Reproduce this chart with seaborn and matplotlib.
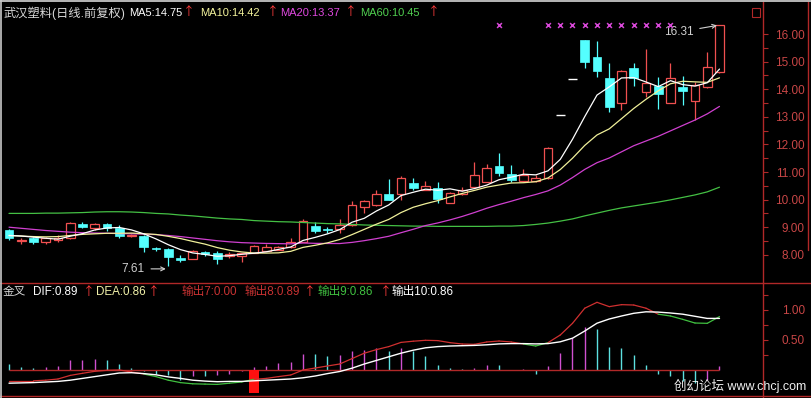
import numpy as np
import pandas as pd
import matplotlib
matplotlib.use('Agg')
import matplotlib.pyplot as plt
import seaborn as sns
from matplotlib.lines import Line2D
from matplotlib.patches import Rectangle

# ---------------- data ----------------
open_ = [8.90, 8.50, 8.62, 8.45, 8.52, 8.62, 9.12, 8.98, 9.12, 8.97,
         8.68, 8.68, 8.24, 8.22, 7.88, 7.84, 8.10, 8.05, 7.96, 7.95,
         8.08, 8.13, 8.18, 8.30, 8.48, 9.06, 8.92, 8.94, 9.08, 9.75,
         9.80, 10.21, 10.21, 10.59, 10.35, 10.41, 9.89, 10.20, 10.44, 10.65,
         11.22, 10.92, 10.68, 10.68, 10.77, 13.05, 14.36, 15.79, 15.16, 14.39,
         13.49, 14.78, 13.89, 14.12, 13.51, 14.07, 13.58, 14.09, 14.63]
high = [8.92, 8.60, 8.64, 8.64, 8.70, 9.20, 9.20, 9.14, 9.14, 9.08,
        8.74, 8.70, 8.30, 8.24, 8.00, 8.17, 8.15, 8.12, 8.10, 8.06,
        8.35, 8.38, 8.33, 8.60, 9.29, 9.18, 9.00, 9.28, 9.94, 10.00,
        10.35, 10.74, 10.84, 10.78, 10.69, 10.62, 10.29, 10.45, 11.35, 11.29,
        11.68, 11.25, 11.10, 10.89, 11.90, 13.05, 14.36, 15.79, 15.76, 14.94,
        14.70, 14.96, 15.45, 14.45, 14.96, 14.48, 14.27, 15.36, 16.31]
low = [8.54, 8.40, 8.40, 8.38, 8.48, 8.58, 8.96, 8.90, 8.88, 8.60,
       8.63, 8.10, 8.14, 7.61, 7.74, 7.83, 7.95, 7.68, 7.88, 7.73,
       8.05, 8.12, 8.16, 8.26, 8.45, 8.79, 8.80, 8.79, 9.04, 9.50,
       9.78, 9.98, 9.99, 10.35, 10.33, 9.87, 9.87, 10.18, 10.42, 10.62,
       10.86, 10.62, 10.65, 10.62, 10.74, 13.05, 14.36, 14.76, 14.45, 13.19,
       13.25, 14.12, 13.71, 13.27, 13.50, 13.43, 12.88, 14.03, 14.60]
close = [8.62, 8.54, 8.45, 8.62, 8.60, 9.16, 9.00, 9.12, 8.98, 8.69,
         8.72, 8.29, 8.20, 7.93, 7.80, 8.12, 8.02, 7.86, 8.04, 8.05,
         8.32, 8.27, 8.30, 8.48, 9.23, 8.88, 8.90, 9.08, 9.81, 9.94,
         10.21, 9.99, 10.78, 10.41, 10.50, 10.01, 10.25, 10.35, 10.89, 11.13,
         10.98, 10.71, 10.89, 10.77, 11.86, 13.05, 14.36, 15.00, 14.67, 13.34,
         14.67, 14.42, 14.21, 13.83, 14.42, 13.95, 14.15, 14.82, 16.31]

# moving-average values before a full window is available
ma5_head = [8.70, 8.68, 8.64, 8.60]
ma10_head = [8.70, 8.68, 8.66, 8.65, 8.66, 8.70, 8.74, 8.76, 8.78]
ma20_head = [9.00, 8.96, 8.92, 8.88, 8.85, 8.82, 8.80, 8.79, 8.78, 8.77,
             8.76, 8.75, 8.73, 8.70, 8.66, 8.61, 8.56, 8.51, 8.47]
ma60 = [9.50, 9.50, 9.50, 9.51, 9.51, 9.52, 9.53, 9.55, 9.56, 9.56,
        9.55, 9.53, 9.50, 9.48, 9.44, 9.41, 9.37, 9.33, 9.30, 9.28,
        9.24, 9.22, 9.20, 9.19, 9.17, 9.15, 9.13, 9.12, 9.10, 9.08,
        9.07, 9.06, 9.05, 9.04, 9.04, 9.03, 9.03, 9.03, 9.03, 9.03,
        9.04, 9.04, 9.06, 9.10, 9.15, 9.22, 9.30, 9.41, 9.51, 9.61,
        9.70, 9.77, 9.84, 9.91, 9.99, 10.08, 10.17, 10.28, 10.45]

dif = [-0.18, -0.18, -0.18, -0.17, -0.15, -0.09, -0.055, -0.022, -0.005, 0.0,
       -0.033, -0.067, -0.11, -0.17, -0.21, -0.23, -0.235, -0.24, -0.22, -0.20,
       -0.155, -0.14, -0.11, -0.083, 0.0, 0.033, 0.067, 0.10, 0.19, 0.28,
       0.34, 0.39, 0.46, 0.48, 0.495, 0.49, 0.456, 0.433, 0.428, 0.467,
       0.483, 0.467, 0.433, 0.40, 0.456, 0.583, 0.778, 1.03, 1.128, 1.056,
       1.089, 1.083, 1.03, 0.93, 0.90, 0.844, 0.783, 0.778, 0.89]
dea = [-0.22, -0.215, -0.21, -0.20, -0.19, -0.17, -0.14, -0.11, -0.08, -0.05,
       -0.045, -0.06, -0.08, -0.115, -0.14, -0.17, -0.185, -0.195, -0.19, -0.19,
       -0.18, -0.17, -0.16, -0.15, -0.13, -0.10, -0.06, -0.025, 0.03, 0.10,
       0.16, 0.22, 0.28, 0.33, 0.37, 0.39, 0.40, 0.405, 0.41, 0.42,
       0.435, 0.44, 0.44, 0.435, 0.44, 0.47, 0.53, 0.65, 0.78, 0.85,
       0.90, 0.945, 0.97, 0.965, 0.95, 0.93, 0.895, 0.86, 0.86]
macd_bar = [0.10, 0.05, 0.04, 0.05, 0.07, 0.16, 0.17, 0.18, 0.16, 0.10,
            0.04, -0.01, -0.06, -0.09, -0.16, -0.10, -0.10, -0.09, -0.06, -0.02,
            0.05, 0.07, 0.12, 0.14, 0.26, 0.26, 0.24, 0.25, 0.32, 0.33,
            0.36, 0.32, 0.36, 0.31, 0.23, 0.09, 0.04, 0.01, 0.04, 0.09,
            0.08, 0.0, 0.01, -0.06, 0.07, 0.29, 0.54, 0.72, 0.68, 0.39,
            0.37, 0.25, 0.08, -0.07, -0.10, -0.18, -0.21, -0.16, 0.06]

golden_cross_idx = [20]
golden_cross_depth = -0.38
signal_idx = [40, 44, 45, 46, 47, 48, 49, 50, 51, 52, 53, 54]
signal_level = 16.33

price_ticks = [8, 9, 10, 11, 12, 13, 14, 15, 16]
price_labels = ['8.00', '9.00', '10.00', '11.00', '12.00', '13.00', '14.00', '15.00', '16.00']
price_minor = [8.5, 9.5, 10.5, 11.5, 12.5, 13.5, 14.5, 15.5]
macd_ticks = [0.5, 1.0]
macd_labels = ['0.50', '1.00']
macd_minor = [0.25, 0.75, 1.25]

max_label = ('16.31', 58, 16.31)
min_label = ('7.61', 13, 7.61)

title_items = [('武汉塑料(日线.前复权)', 4, '#d8d8d8', 8.8), ('MA5:14.75', 129, '#ffffff', 8.0),
               ('MA10:14.42', 200, '#f4f49c', 8.0), ('MA20:13.37', 280, '#e048e0', 8.0),
               ('MA60:10.45', 360, '#50d050', 8.0)]
title_arrows = [183, 267, 345, 428]
sub_items = [('金叉', 3, '#d8d8d8'), ('DIF:0.89', 33, '#ffffff'),
             ('DEA:0.86', 96, '#f0f0a8'),
             ('输出7:0.00', 182, '#c83232'), ('输出8:0.89', 245, '#c83232'),
             ('输出9:0.86', 318, '#40c040'), ('输出10:0.86', 392, '#ffffff')]
sub_arrows = [83, 148, 304, 380]

# ---------------- style ----------------
sns.set_theme(style='dark')
plt.rcParams['font.family'] = ['Liberation Sans', 'Noto Sans CJK SC', 'DejaVu Sans']
plt.rcParams['axes.unicode_minus'] = False

RED = '#f05050'
CYAN = '#54ffff'
AXRED = '#b02828'
TXTRED = '#c84646'

W, H = 812, 398
fig = plt.figure(figsize=(W / 100, H / 100), dpi=100, facecolor='black')


def fx(px):
    return px / W


def fy(py):
    return 1 - py / H


ax1 = fig.add_axes([0, fy(283), 763 / W, 283 / H])
ax2 = fig.add_axes([0, 0, 763 / W, 115 / H])

x0 = -9 / 12.25
x1 = (763 - 9) / 12.25
for ax in (ax1, ax2):
    ax.set_facecolor('black')
    ax.grid(False)
    for s in ax.spines.values():
        s.set_visible(False)
    ax.spines['right'].set_visible(True)
    ax.spines['right'].set_color(AXRED)
    ax.spines['right'].set_linewidth(1.0)
    ax.set_xlim(x0, x1)
    ax.set_xticks([])
    ax.yaxis.tick_right()

ax1.set_ylim(16 - 249 / 27.6, 16 + 34 / 27.6)
ax2.set_ylim(-28 / 60, 87 / 60)

# ---------------- candles ----------------
o = np.array(open_)
h = np.array(high)
lo = np.array(low)
c = np.array(close)
idx = np.arange(len(c))
up = c > o
dn = c < o
flat = c == o
wick_col = np.where(up, RED, np.where(dn, CYAN, '#ffffff'))
ax1.vlines(idx, lo, h, colors=wick_col, lw=0.9, zorder=2)
ax1.bar(idx[up], (c - o)[up], bottom=o[up], width=0.7, facecolor='black',
        edgecolor=RED, linewidth=0.9, zorder=3)
ax1.bar(idx[dn], (o - c)[dn], bottom=c[dn], width=0.7, facecolor=CYAN,
        edgecolor=CYAN, linewidth=0.5, zorder=3)
ax1.hlines(c[flat], idx[flat] - 0.35, idx[flat] + 0.35, colors='#ffffff', lw=1.0, zorder=3)

# ---------------- moving averages ----------------
cs = pd.Series(close)
ma5 = cs.rolling(5).mean().to_numpy()
ma5[:len(ma5_head)] = ma5_head
ma10 = cs.rolling(10).mean().to_numpy()
ma10[:len(ma10_head)] = ma10_head
ma20 = cs.rolling(20).mean().to_numpy()
ma20[:len(ma20_head)] = ma20_head

for vals, col in [(ma60, '#44c044'), (ma20, '#d040d0'), (ma10, '#f0f09a'), (ma5, '#ffffff')]:
    sns.lineplot(x=idx, y=np.asarray(vals), ax=ax1, color=col, lw=0.9, zorder=4,
                 estimator=None, sort=False)

ax1.scatter(signal_idx, [signal_level] * len(signal_idx), marker='x', s=12,
            color='#d848d8', linewidths=1.1, zorder=5)

ax1.annotate(max_label[0], xy=(max_label[1] - 0.2, max_label[2]), xytext=(55.9, 16.07),
             ha='right', va='center', color='#d0d0d0', fontsize=8.5,
             arrowprops=dict(arrowstyle='->', color='#d0d0d0', lw=0.8,
                             shrinkA=2, shrinkB=0, mutation_scale=7))
ax1.annotate(min_label[0], xy=(min_label[1] - 0.2, 7.49), xytext=(11.1, 7.49),
             ha='right', va='center', color='#d0d0d0', fontsize=8.5,
             arrowprops=dict(arrowstyle='->', color='#d0d0d0', lw=0.8,
                             shrinkA=2, shrinkB=0, mutation_scale=7))

# ---------------- MACD panel ----------------
bars = np.array(macd_bar)
prev = np.concatenate([[np.inf], bars[:-1]])
bar_col = np.where(bars > prev, '#d050d0', '#5ce0e0')
ax2.vlines(idx, 0, bars, colors=bar_col, lw=1.0, zorder=2)
ax2.hlines(0, idx[0], idx[-1], colors=AXRED, lw=1.0, zorder=3)
ax2.bar(golden_cross_idx, [golden_cross_depth] * len(golden_cross_idx), width=0.82,
        color='#ff1010', edgecolor='none', linewidth=0, zorder=4)

d = np.array(dif)
e = np.array(dea)
for i in range(len(d) - 1):
    col = '#d03030' if d[i] >= e[i] else '#40c040'
    ax2.plot([i, i + 1], [d[i], d[i + 1]], color=col, lw=0.9, zorder=5)
sns.lineplot(x=idx, y=e, ax=ax2, color='#ffffff', lw=1.0, zorder=6,
             estimator=None, sort=False)

# ---------------- ticks ----------------
pad_pt = (42 - 5) * 0.72
ax1.set_yticks(price_ticks)
ax1.set_yticklabels(price_labels)
ax1.set_yticks(price_minor, minor=True)
ax2.set_yticks(macd_ticks)
ax2.set_yticklabels(macd_labels)
ax2.set_yticks(macd_minor, minor=True)
for ax in (ax1, ax2):
    ax.tick_params(axis='y', which='both', direction='out', length=3.6, width=0.8,
                   color=AXRED, labelcolor=TXTRED, labelsize=8.5, pad=pad_pt,
                   right=True, left=False, labelright=True, labelleft=False)
    for t in ax.get_yticklabels():
        t.set_horizontalalignment('right')
    ax.set_xlabel('')
    ax.set_ylabel('')

# ---------------- frame & texts ----------------
def fline(xs, ys, col, lw):
    fig.add_artist(Line2D([fx(v) for v in xs], [fy(v) for v in ys], color=col, lw=lw,
                          transform=fig.transFigure))

fline([0, W], [283, 283], AXRED, 1.0)
fline([0, W], [396, 396], AXRED, 1.0)
fline([808, 808], [0, 250], AXRED, 1.0)
fline([0, W], [0.8, 0.8], '#b8b8b8', 1.4)
fline([1, 1], [0, H], '#c8c8c8', 1.2)
fig.add_artist(Rectangle((fx(752), fy(17)), 8 / W, 9 / H, fill=False, edgecolor=AXRED,
                         lw=0.8, transform=fig.transFigure))

for txt, px, col, fs in title_items:
    fig.text(fx(px), fy(13), txt, color=col, fontsize=fs, ha='left', va='center')
for px in title_arrows:
    fig.text(fx(px), fy(12), '↑', color='#ff3c3c', fontsize=8.5, ha='left', va='center',
             family=['Noto Sans CJK SC', 'DejaVu Sans'])
for txt, px, col in sub_items:
    fig.text(fx(px), fy(292), txt, color=col, fontsize=8.4, ha='left', va='center')
for px in sub_arrows:
    fig.text(fx(px), fy(291), '↑', color='#ff3c3c', fontsize=8.5, ha='left', va='center',
             family=['Noto Sans CJK SC', 'DejaVu Sans'])
fig.text(fx(806), fy(386), '创幻论坛 www.chcj.com', color='#f0f0f0', fontsize=9,
         ha='right', va='center')

fig.savefig('out.png', dpi=100, facecolor='black')
